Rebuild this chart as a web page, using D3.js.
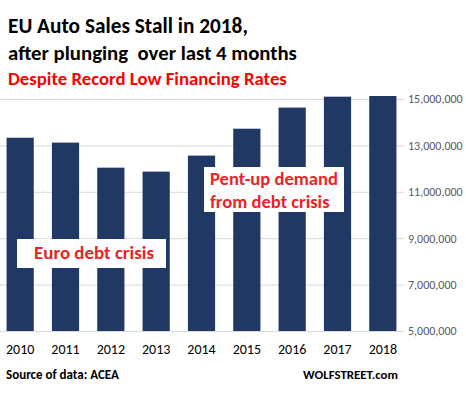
<!DOCTYPE html>
<html>
<head>
<meta charset="utf-8">
<script src="https://cdn.jsdelivr.net/npm/d3@7"></script>
<style>
  body { margin: 0; background: #fff; }
  svg { display: block; font-family: Carlito, Calibri, "Liberation Sans", Arial, sans-serif; }
</style>
</head>
<body>
<div id="chart"></div>
<script>
const years = ["2010", "2011", "2012", "2013", "2014", "2015", "2016", "2017", "2018"];
const sales = [13330000, 13120000, 12040000, 11870000, 12560000, 13720000, 14630000, 15100000, 15130000];
const yTicks = [5000000, 7000000, 9000000, 11000000, 13000000, 15000000];
const titleLines = ["EU Auto Sales Stall in 2018,", "after plunging\u00a0 over last 4 months"];
const subtitle = "Despite Record Low Financing Rates";
const noteEuro = ["Euro debt crisis"];
const notePent = ["Pent-up demand", "from debt crisis"];

const W = 466, H = 395;
const red = "#ee1f26";

const svg = d3.select("#chart")
  .append("svg")
  .attr("width", W)
  .attr("height", H);

// scale text so it spans the given width
function fit(sel, base, target) {
  sel.style("font-size", base + "px");
  const len = sel.node().getComputedTextLength();
  sel.style("font-size", (base * target / len).toFixed(2) + "px");
  return sel;
}

const x = d3.scaleBand()
  .domain(years)
  .range([-2.5, 405.5])
  .paddingInner(0.4)
  .paddingOuter(0.2);

const y = d3.scaleLinear()
  .domain([5000000, 15000000])
  .range([331, 99]);

// gridlines + right axis labels
const yAxis = svg.append("g")
  .attr("transform", "translate(404,0)")
  .call(d3.axisRight(y)
    .tickValues(yTicks)
    .tickSizeInner(-404)
    .tickSizeOuter(0)
    .tickPadding(4)
    .tickFormat(d3.format(",")));
yAxis.select(".domain").remove();
yAxis.selectAll("line").attr("stroke", "#d9d9d9").attr("stroke-width", 1);
yAxis.selectAll("text")
  .attr("fill", "#595959")
  .style("font-size", "12px")
  .style("font-family", "Carlito, Calibri, 'Liberation Sans', Arial, sans-serif");

// bars
svg.selectAll("rect.bar")
  .data(years)
  .join("rect")
  .attr("class", "bar")
  .attr("x", d => x(d))
  .attr("width", x.bandwidth())
  .attr("y", (d, i) => y(sales[i]))
  .attr("height", (d, i) => y(5000000) - y(sales[i]))
  .attr("fill", "#203864");

// year labels
svg.selectAll("text.year")
  .data(years)
  .join("text")
  .attr("class", "year")
  .attr("x", d => x(d) + x.bandwidth() / 2)
  .attr("y", 354)
  .attr("text-anchor", "middle")
  .style("font-size", "14px")
  .attr("fill", "#000")
  .text(d => d);

// titles
const tWidths = [240, 289];
titleLines.forEach((t, i) => {
  const el = svg.append("text")
    .attr("x", 8)
    .attr("y", 33 + i * 27)
    .attr("font-weight", "bold")
    .attr("fill", "#000")
    .style("white-space", "pre")
    .text(t);
  fit(el, 18, tWidths[i]);
});

fit(svg.append("text")
  .attr("x", 8)
  .attr("y", 85)
  .attr("font-weight", "bold")
  .attr("fill", "#ff0000")
  .text(subtitle), 16, 279);

// annotations
svg.append("rect")
  .attr("x", 17).attr("y", 239)
  .attr("width", 149).attr("height", 29)
  .attr("fill", "#fff");
noteEuro.forEach((t, i) => {
  fit(svg.append("text")
    .attr("x", 34)
    .attr("y", 259 + i * 23)
    .attr("font-weight", "bold")
    .attr("fill", red)
    .text(t), 17, 120);
});

svg.append("rect")
  .attr("x", 204).attr("y", 167)
  .attr("width", 140).attr("height", 45)
  .attr("fill", "#fff");
const pentEls = notePent.map((t, i) => svg.append("text")
  .attr("x", 210)
  .attr("y", 185 + i * 23)
  .attr("font-weight", "bold")
  .attr("fill", red)
  .text(t));
fit(pentEls[0], 17, 128);
pentEls[1].style("font-size", pentEls[0].style("font-size"));

// footer
fit(svg.append("text")
  .attr("x", 6)
  .attr("y", 379)
  .attr("font-weight", "bold")
  .attr("fill", "#000")
  .text("Source of data: ACEA"), 11, 113);

fit(svg.append("text")
  .attr("x", 398)
  .attr("y", 379)
  .attr("text-anchor", "end")
  .attr("font-weight", "bold")
  .attr("fill", "#000")
  .text("WOLFSTREET.com"), 11, 95);
</script>
</body>
</html>
